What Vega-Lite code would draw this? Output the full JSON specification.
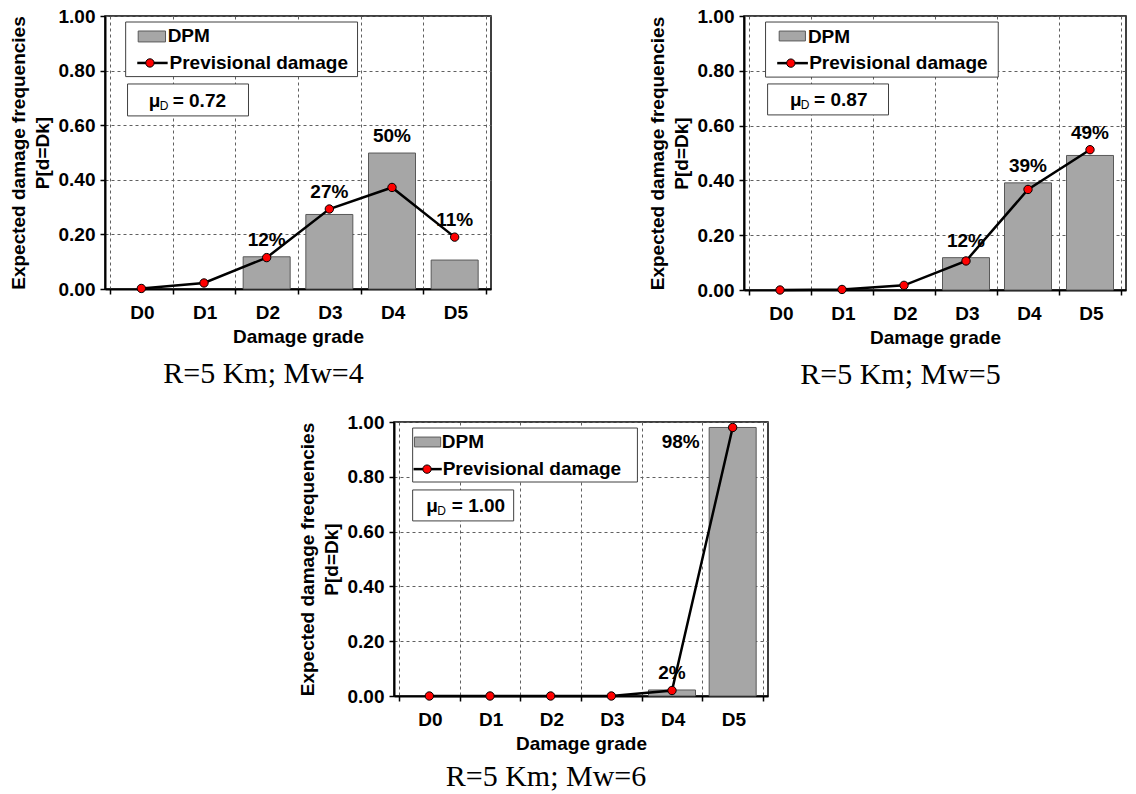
{
  "$schema": "https://vega.github.io/schema/vega-lite/v6.json",
  "background": "white",
  "padding": {"left": 8, "top": 6, "right": 0, "bottom": 0},
  "datasets": {
    "mw4": [
      {"g": 0, "dpm": 0, "prev": 0.002},
      {"g": 1, "dpm": 0, "prev": 0.022},
      {"g": 2, "dpm": 0.118, "prev": 0.115},
      {"g": 3, "dpm": 0.273, "prev": 0.293},
      {"g": 4, "dpm": 0.498, "prev": 0.372},
      {"g": 5, "dpm": 0.106, "prev": 0.19}
    ],
    "mw5": [
      {"g": 0, "dpm": 0, "prev": 0.0},
      {"g": 1, "dpm": 0, "prev": 0.002},
      {"g": 2, "dpm": 0, "prev": 0.017},
      {"g": 3, "dpm": 0.118, "prev": 0.106},
      {"g": 4, "dpm": 0.391, "prev": 0.367},
      {"g": 5, "dpm": 0.491, "prev": 0.512}
    ],
    "mw6": [
      {"g": 0, "dpm": 0, "prev": 0},
      {"g": 1, "dpm": 0, "prev": 0},
      {"g": 2, "dpm": 0, "prev": 0},
      {"g": 3, "dpm": 0, "prev": 0},
      {"g": 4, "dpm": 0.022, "prev": 0.02},
      {"g": 5, "dpm": 0.98, "prev": 0.98}
    ]
  },
  "config": {
    "font": "Liberation Sans",
    "view": {"stroke": "black", "strokeWidth": 1.5},
    "axis": {
      "grid": true, "gridColor": "#606060", "gridDash": [3, 3], "gridWidth": 1,
      "domainColor": "black", "domainWidth": 2, "tickColor": "black", "tickWidth": 1.5, "tickSize": 5,
      "labelFont": "Liberation Sans", "labelFontSize": 19, "labelFontWeight": "bold", "labelColor": "black",
      "titleFont": "Liberation Sans", "titleFontSize": 19, "titleFontWeight": "bold", "titleColor": "black",
      "labelOverlap": false, "labelBound": false, "labelFlush": false
    },
    "axisX": {"labelPadding": 9, "titlePadding": 5},
    "axisY": {"labelPadding": 5, "titlePadding": 6, "titleLineHeight": 24},
    "title": {"font": "Liberation Serif", "fontSize": 30, "fontWeight": "normal", "color": "black", "orient": "bottom", "anchor": "middle", "frame": "bounds", "offset": 9}
  },
  "spacing": 21,
  "vconcat": [
    {
      "spacing": 128,
      "hconcat": [
        {
          "width": 386, "height": 273,
          "title": {"text": "R=5 Km; Mw=4", "offset": 13},
          "data": {"name": "mw4"},
          "layer": [
            {
              "transform": [{"filter": "datum.dpm > 0"}],
              "mark": {"type": "bar", "orient": "vertical", "size": 47, "fill": "#a6a6a6", "stroke": "#595959", "strokeWidth": 1},
              "encoding": {
                "x": {"field": "g", "type": "quantitative", "scale": {"domain": [-0.5, 5.5], "nice": false, "zero": false},
                  "axis": {"values": [-0.5, 0.5, 1.5, 2.5, 3.5, 4.5, 5.5], "labelExpr": "datum.value < 5 ? 'D' + round(datum.value + 0.5) : ''", "labelOffset": 32, "title": "Damage grade"}},
                "y": {"field": "dpm", "type": "quantitative", "stack": null, "scale": {"domain": [0, 1], "nice": false},
                  "axis": {"values": [0, 0.2, 0.4, 0.6, 0.8, 1], "format": ".2f", "title": ["Expected damage frequencies", "P[d=Dk]"]}}
              }
            },
            {
              "mark": {"type": "line", "color": "black", "strokeWidth": 2.5},
              "encoding": {"x": {"field": "g", "type": "quantitative"}, "y": {"field": "prev", "type": "quantitative"}}
            },
            {
              "mark": {"type": "point", "shape": "circle", "filled": true, "fill": "#ff0000", "stroke": "black", "strokeWidth": 1, "size": 70, "opacity": 1},
              "encoding": {"x": {"field": "g", "type": "quantitative"}, "y": {"field": "prev", "type": "quantitative"}}
            },
            {
              "transform": [{"filter": "datum.dpm >= 0.02 && datum.dpm >= datum.prev && datum.dpm < 0.9"}],
              "mark": {"type": "text", "fontSize": 19, "fontWeight": "bold", "baseline": "middle", "dy": -17, "color": "black"},
              "encoding": {"x": {"field": "g", "type": "quantitative"}, "y": {"field": "dpm", "type": "quantitative"}, "text": {"field": "dpm", "type": "quantitative", "format": ".0%"}}
            },
            {
              "transform": [{"filter": "datum.dpm >= 0.02 && datum.prev > datum.dpm"}],
              "mark": {"type": "text", "fontSize": 19, "fontWeight": "bold", "baseline": "middle", "dy": -17, "color": "black"},
              "encoding": {"x": {"field": "g", "type": "quantitative"}, "y": {"field": "prev", "type": "quantitative"}, "text": {"field": "dpm", "type": "quantitative", "format": ".0%"}}
            },
            {
              "data": {"values": [{}]},
              "mark": {"type": "rect", "fill": "white", "stroke": "#404040", "strokeWidth": 1},
              "encoding": {"x": {"datum": -0.25, "type": "quantitative"}, "x2": {"datum": 3.45}, "y": {"datum": 0.778, "type": "quantitative"}, "y2": {"datum": 0.978}}
            },
            {
              "data": {"values": [{}]},
              "mark": {"type": "rect", "fill": "#a6a6a6", "stroke": "#595959", "strokeWidth": 1},
              "encoding": {"x": {"datum": -0.05, "type": "quantitative"}, "x2": {"datum": 0.386}, "y": {"datum": 0.905, "type": "quantitative"}, "y2": {"datum": 0.945}}
            },
            {
              "data": {"values": [{}]},
              "mark": {"type": "text", "fontSize": 19, "fontWeight": "bold", "align": "left", "baseline": "middle", "color": "black"},
              "encoding": {"x": {"datum": 0.42, "type": "quantitative"}, "y": {"datum": 0.925, "type": "quantitative"}, "text": {"value": "DPM"}}
            },
            {
              "data": {"values": [{}]},
              "mark": {"type": "rule", "color": "black", "strokeWidth": 2.5},
              "encoding": {"x": {"datum": -0.065, "type": "quantitative"}, "x2": {"datum": 0.42}, "y": {"datum": 0.828, "type": "quantitative"}}
            },
            {
              "data": {"values": [{}]},
              "mark": {"type": "point", "shape": "circle", "filled": true, "fill": "#ff0000", "stroke": "black", "strokeWidth": 1, "size": 70, "opacity": 1},
              "encoding": {"x": {"datum": 0.137, "type": "quantitative"}, "y": {"datum": 0.828, "type": "quantitative"}}
            },
            {
              "data": {"values": [{}]},
              "mark": {"type": "text", "fontSize": 19, "fontWeight": "bold", "align": "left", "baseline": "middle", "color": "black"},
              "encoding": {"x": {"datum": 0.45, "type": "quantitative"}, "y": {"datum": 0.828, "type": "quantitative"}, "text": {"value": "Previsional damage"}}
            },
            {
              "data": {"values": [{}]},
              "mark": {"type": "rect", "fill": "white", "stroke": "#404040", "strokeWidth": 1},
              "encoding": {"x": {"datum": -0.22, "type": "quantitative"}, "x2": {"datum": 1.71}, "y": {"datum": 0.634, "type": "quantitative"}, "y2": {"datum": 0.751}}
            },
            {
              "data": {"values": [{}]},
              "mark": {"type": "text", "fontSize": 19, "fontWeight": "bold", "align": "left", "baseline": "middle", "color": "black"},
              "encoding": {"x": {"datum": 0.12, "type": "quantitative"}, "y": {"datum": 0.69, "type": "quantitative"}, "text": {"value": "μ"}}
            },
            {
              "data": {"values": [{}]},
              "mark": {"type": "text", "fontSize": 12, "fontWeight": "normal", "align": "left", "baseline": "middle", "color": "black"},
              "encoding": {"x": {"datum": 0.295, "type": "quantitative"}, "y": {"datum": 0.67, "type": "quantitative"}, "text": {"value": "D"}}
            },
            {
              "data": {"values": [{}]},
              "mark": {"type": "text", "fontSize": 19, "fontWeight": "bold", "align": "left", "baseline": "middle", "color": "black"},
              "encoding": {"x": {"datum": 0.5, "type": "quantitative"}, "y": {"datum": 0.69, "type": "quantitative"}, "text": {"value": "= 0.72"}}
            }
          ]
        },
        {
          "width": 382, "height": 274,
          "title": {"text": "R=5 Km; Mw=5", "offset": 13},
          "data": {"name": "mw5"},
          "layer": [
            {
              "transform": [{"filter": "datum.dpm > 0"}],
              "mark": {"type": "bar", "orient": "vertical", "size": 47, "fill": "#a6a6a6", "stroke": "#595959", "strokeWidth": 1},
              "encoding": {
                "x": {"field": "g", "type": "quantitative", "scale": {"domain": [-0.5, 5.5], "nice": false, "zero": false},
                  "axis": {"values": [-0.5, 0.5, 1.5, 2.5, 3.5, 4.5, 5.5], "labelExpr": "datum.value < 5 ? 'D' + round(datum.value + 0.5) : ''", "labelOffset": 32, "title": "Damage grade"}},
                "y": {"field": "dpm", "type": "quantitative", "stack": null, "scale": {"domain": [0, 1], "nice": false},
                  "axis": {"values": [0, 0.2, 0.4, 0.6, 0.8, 1], "format": ".2f", "title": ["Expected damage frequencies", "P[d=Dk]"]}}
              }
            },
            {
              "mark": {"type": "line", "color": "black", "strokeWidth": 2.5},
              "encoding": {"x": {"field": "g", "type": "quantitative"}, "y": {"field": "prev", "type": "quantitative"}}
            },
            {
              "mark": {"type": "point", "shape": "circle", "filled": true, "fill": "#ff0000", "stroke": "black", "strokeWidth": 1, "size": 70, "opacity": 1},
              "encoding": {"x": {"field": "g", "type": "quantitative"}, "y": {"field": "prev", "type": "quantitative"}}
            },
            {
              "transform": [{"filter": "datum.dpm >= 0.02 && datum.dpm >= datum.prev && datum.dpm < 0.9"}],
              "mark": {"type": "text", "fontSize": 19, "fontWeight": "bold", "baseline": "middle", "dy": -17, "color": "black"},
              "encoding": {"x": {"field": "g", "type": "quantitative"}, "y": {"field": "dpm", "type": "quantitative"}, "text": {"field": "dpm", "type": "quantitative", "format": ".0%"}}
            },
            {
              "transform": [{"filter": "datum.dpm >= 0.02 && datum.prev > datum.dpm"}],
              "mark": {"type": "text", "fontSize": 19, "fontWeight": "bold", "baseline": "middle", "dy": -17, "color": "black"},
              "encoding": {"x": {"field": "g", "type": "quantitative"}, "y": {"field": "prev", "type": "quantitative"}, "text": {"field": "dpm", "type": "quantitative", "format": ".0%"}}
            },
            {
              "data": {"values": [{}]},
              "mark": {"type": "rect", "fill": "white", "stroke": "#404040", "strokeWidth": 1},
              "encoding": {"x": {"datum": -0.233, "type": "quantitative"}, "x2": {"datum": 3.52}, "y": {"datum": 0.777, "type": "quantitative"}, "y2": {"datum": 0.978}}
            },
            {
              "data": {"values": [{}]},
              "mark": {"type": "rect", "fill": "#a6a6a6", "stroke": "#595959", "strokeWidth": 1},
              "encoding": {"x": {"datum": -0.013, "type": "quantitative"}, "x2": {"datum": 0.41}, "y": {"datum": 0.909, "type": "quantitative"}, "y2": {"datum": 0.945}}
            },
            {
              "data": {"values": [{}]},
              "mark": {"type": "text", "fontSize": 19, "fontWeight": "bold", "align": "left", "baseline": "middle", "color": "black"},
              "encoding": {"x": {"datum": 0.45, "type": "quantitative"}, "y": {"datum": 0.925, "type": "quantitative"}, "text": {"value": "DPM"}}
            },
            {
              "data": {"values": [{}]},
              "mark": {"type": "rule", "color": "black", "strokeWidth": 2.5},
              "encoding": {"x": {"datum": -0.045, "type": "quantitative"}, "x2": {"datum": 0.45}, "y": {"datum": 0.828, "type": "quantitative"}}
            },
            {
              "data": {"values": [{}]},
              "mark": {"type": "point", "shape": "circle", "filled": true, "fill": "#ff0000", "stroke": "black", "strokeWidth": 1, "size": 70, "opacity": 1},
              "encoding": {"x": {"datum": 0.175, "type": "quantitative"}, "y": {"datum": 0.828, "type": "quantitative"}}
            },
            {
              "data": {"values": [{}]},
              "mark": {"type": "text", "fontSize": 19, "fontWeight": "bold", "align": "left", "baseline": "middle", "color": "black"},
              "encoding": {"x": {"datum": 0.47, "type": "quantitative"}, "y": {"datum": 0.828, "type": "quantitative"}, "text": {"value": "Previsional damage"}}
            },
            {
              "data": {"values": [{}]},
              "mark": {"type": "rect", "fill": "white", "stroke": "#404040", "strokeWidth": 1},
              "encoding": {"x": {"datum": -0.2, "type": "quantitative"}, "x2": {"datum": 1.75}, "y": {"datum": 0.639, "type": "quantitative"}, "y2": {"datum": 0.752}}
            },
            {
              "data": {"values": [{}]},
              "mark": {"type": "text", "fontSize": 19, "fontWeight": "bold", "align": "left", "baseline": "middle", "color": "black"},
              "encoding": {"x": {"datum": 0.16, "type": "quantitative"}, "y": {"datum": 0.695, "type": "quantitative"}, "text": {"value": "μ"}}
            },
            {
              "data": {"values": [{}]},
              "mark": {"type": "text", "fontSize": 12, "fontWeight": "normal", "align": "left", "baseline": "middle", "color": "black"},
              "encoding": {"x": {"datum": 0.335, "type": "quantitative"}, "y": {"datum": 0.675, "type": "quantitative"}, "text": {"value": "D"}}
            },
            {
              "data": {"values": [{}]},
              "mark": {"type": "text", "fontSize": 19, "fontWeight": "bold", "align": "left", "baseline": "middle", "color": "black"},
              "encoding": {"x": {"datum": 0.55, "type": "quantitative"}, "y": {"datum": 0.695, "type": "quantitative"}, "text": {"value": "= 0.87"}}
            }
          ]
        }
      ]
    },
    {
      "spacing": 0,
      "hconcat": [
        {
          "width": 192, "height": 10,
          "data": {"values": []},
          "mark": "point",
          "encoding": {},
          "view": {"stroke": null}
        },
        {
          "width": 374, "height": 274,
          "title": "R=5 Km; Mw=6",
          "data": {"name": "mw6"},
          "layer": [
            {
              "transform": [{"filter": "datum.dpm > 0"}],
              "mark": {"type": "bar", "orient": "vertical", "size": 47, "fill": "#a6a6a6", "stroke": "#595959", "strokeWidth": 1},
              "encoding": {
                "x": {"field": "g", "type": "quantitative", "scale": {"domain": [-0.5, 5.5], "nice": false, "zero": false},
                  "axis": {"values": [-0.5, 0.5, 1.5, 2.5, 3.5, 4.5, 5.5], "labelExpr": "datum.value < 5 ? 'D' + round(datum.value + 0.5) : ''", "labelOffset": 31, "title": "Damage grade"}},
                "y": {"field": "dpm", "type": "quantitative", "stack": null, "scale": {"domain": [0, 1], "nice": false},
                  "axis": {"values": [0, 0.2, 0.4, 0.6, 0.8, 1], "format": ".2f", "title": ["Expected damage frequencies", "P[d=Dk]"]}}
              }
            },
            {
              "mark": {"type": "line", "color": "black", "strokeWidth": 2.5},
              "encoding": {"x": {"field": "g", "type": "quantitative"}, "y": {"field": "prev", "type": "quantitative"}}
            },
            {
              "mark": {"type": "point", "shape": "circle", "filled": true, "fill": "#ff0000", "stroke": "black", "strokeWidth": 1, "size": 70, "opacity": 1},
              "encoding": {"x": {"field": "g", "type": "quantitative"}, "y": {"field": "prev", "type": "quantitative"}}
            },
            {
              "transform": [{"filter": "datum.dpm >= 0.02 && datum.dpm >= datum.prev && datum.dpm < 0.9"}],
              "mark": {"type": "text", "fontSize": 19, "fontWeight": "bold", "baseline": "middle", "dy": -17, "color": "black"},
              "encoding": {"x": {"field": "g", "type": "quantitative"}, "y": {"field": "dpm", "type": "quantitative"}, "text": {"field": "dpm", "type": "quantitative", "format": ".0%"}}
            },
            {
              "transform": [{"filter": "datum.dpm >= 0.9"}],
              "mark": {"type": "text", "fontSize": 19, "fontWeight": "bold", "align": "right", "baseline": "middle", "dx": -33, "dy": 15, "color": "black"},
              "encoding": {"x": {"field": "g", "type": "quantitative"}, "y": {"field": "dpm", "type": "quantitative"}, "text": {"field": "dpm", "type": "quantitative", "format": ".0%"}}
            },
            {
              "data": {"values": [{}]},
              "mark": {"type": "rect", "fill": "white", "stroke": "#404040", "strokeWidth": 1},
              "encoding": {"x": {"datum": -0.275, "type": "quantitative"}, "x2": {"datum": 3.43}, "y": {"datum": 0.781, "type": "quantitative"}, "y2": {"datum": 0.978}}
            },
            {
              "data": {"values": [{}]},
              "mark": {"type": "rect", "fill": "#a6a6a6", "stroke": "#595959", "strokeWidth": 1},
              "encoding": {"x": {"datum": -0.246, "type": "quantitative"}, "x2": {"datum": 0.187}, "y": {"datum": 0.909, "type": "quantitative"}, "y2": {"datum": 0.945}}
            },
            {
              "data": {"values": [{}]},
              "mark": {"type": "text", "fontSize": 19, "fontWeight": "bold", "align": "left", "baseline": "middle", "color": "black"},
              "encoding": {"x": {"datum": 0.205, "type": "quantitative"}, "y": {"datum": 0.927, "type": "quantitative"}, "text": {"value": "DPM"}}
            },
            {
              "data": {"values": [{}]},
              "mark": {"type": "rule", "color": "black", "strokeWidth": 2.5},
              "encoding": {"x": {"datum": -0.26, "type": "quantitative"}, "x2": {"datum": 0.205}, "y": {"datum": 0.828, "type": "quantitative"}}
            },
            {
              "data": {"values": [{}]},
              "mark": {"type": "point", "shape": "circle", "filled": true, "fill": "#ff0000", "stroke": "black", "strokeWidth": 1, "size": 70, "opacity": 1},
              "encoding": {"x": {"datum": -0.038, "type": "quantitative"}, "y": {"datum": 0.828, "type": "quantitative"}}
            },
            {
              "data": {"values": [{}]},
              "mark": {"type": "text", "fontSize": 19, "fontWeight": "bold", "align": "left", "baseline": "middle", "color": "black"},
              "encoding": {"x": {"datum": 0.22, "type": "quantitative"}, "y": {"datum": 0.828, "type": "quantitative"}, "text": {"value": "Previsional damage"}}
            },
            {
              "data": {"values": [{}]},
              "mark": {"type": "rect", "fill": "white", "stroke": "#404040", "strokeWidth": 1},
              "encoding": {"x": {"datum": -0.275, "type": "quantitative"}, "x2": {"datum": 1.39}, "y": {"datum": 0.639, "type": "quantitative"}, "y2": {"datum": 0.752}}
            },
            {
              "data": {"values": [{}]},
              "mark": {"type": "text", "fontSize": 19, "fontWeight": "bold", "align": "left", "baseline": "middle", "color": "black"},
              "encoding": {"x": {"datum": -0.05, "type": "quantitative"}, "y": {"datum": 0.695, "type": "quantitative"}, "text": {"value": "μ"}}
            },
            {
              "data": {"values": [{}]},
              "mark": {"type": "text", "fontSize": 12, "fontWeight": "normal", "align": "left", "baseline": "middle", "color": "black"},
              "encoding": {"x": {"datum": 0.13, "type": "quantitative"}, "y": {"datum": 0.675, "type": "quantitative"}, "text": {"value": "D"}}
            },
            {
              "data": {"values": [{}]},
              "mark": {"type": "text", "fontSize": 19, "fontWeight": "bold", "align": "left", "baseline": "middle", "color": "black"},
              "encoding": {"x": {"datum": 0.37, "type": "quantitative"}, "y": {"datum": 0.695, "type": "quantitative"}, "text": {"value": "= 1.00"}}
            }
          ]
        }
      ]
    }
  ]
}
